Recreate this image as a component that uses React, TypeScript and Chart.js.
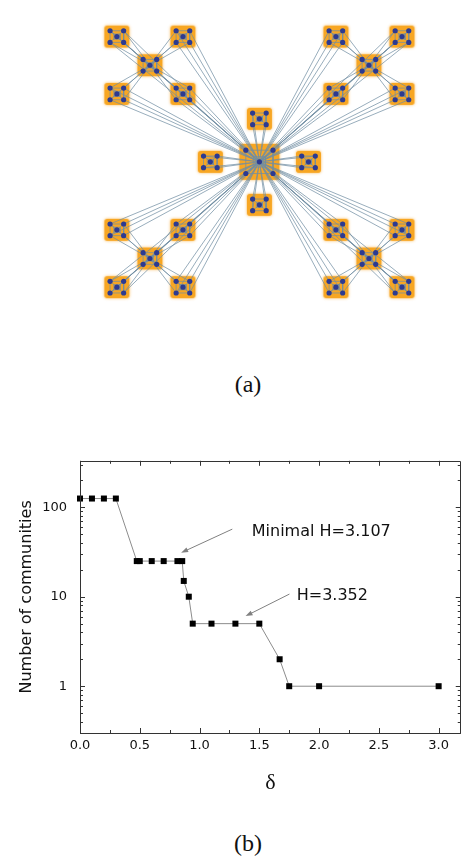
import React, { useEffect, useRef } from "react";
import { Chart, registerables } from "chart.js";

Chart.register(...registerables);

// ---------- (a) hierarchical modular network, layout units = canvas pixels ----------
const netWidth = 465;
const netHeight = 345;
const hubPosition = [261, 161];
const cornerGroupOffsets = [
  [-116, -104.5],
  [116, -104.5],
  [-116, 104.5],
  [116, 104.5],
];
const cornerGroupArms = [
  [-35, -31],
  [35, -31],
  [-35, 31],
  [35, 31],
];
const centerGroupArms = [
  [0, -46.5],
  [-52, 0],
  [52, 0],
  [0, 46.5],
];
// four peripheral nodes and the module centre
const moduleNodeOffsets = [
  [-7.2, -6.3],
  [7.2, -6.3],
  [-7.2, 6.3],
  [7.2, 6.3],
  [0, 0],
];
const moduleEdges = [
  [0, 1],
  [1, 3],
  [3, 2],
  [2, 0],
  [0, 4],
  [1, 4],
  [2, 4],
  [3, 4],
];
const moduleInnerFrame = 0.45;
const hubModuleScale = 2;

// ---------- (b) number of communities versus delta ----------
const deltaValues = [
  0, 0.1, 0.2, 0.3, 0.475, 0.5, 0.6, 0.7, 0.815, 0.855, 0.868, 0.91, 0.943,
  1.1, 1.3, 1.5, 1.67, 1.75, 2.0, 3.0,
];
const communityCounts = [
  125, 125, 125, 125, 25, 25, 25, 25, 25, 25, 15, 10, 5, 5, 5, 5, 2, 1, 1, 1,
];
const xTickValues = [0, 0.5, 1, 1.5, 2, 2.5, 3];
const xMinorTickValues = [0.25, 0.75, 1.25, 1.75, 2.25, 2.75];
const yTickValues = [1, 10, 100];
const yDecades = [0.1, 1, 10, 100];
const yMinorMultiples = [2, 3, 4, 5, 6, 7, 8, 9];
const annotationLabels = ["Minimal H=3.107", "H=3.352"];
const annotationTextAt = [
  [1.437, 53.5],
  [1.813, 10.3],
];
const annotationArrowFrom = [
  [1.274, 56.9],
  [1.752, 10.7],
];
const annotationArrowTo = [
  [0.846, 31.0],
  [1.385, 6.07],
];

type Pt = { x: number; y: number };

function buildNetwork() {
  const modules: { center: Pt; scale: number }[] = [];
  const nodes: Pt[] = [];
  const edges: [Pt, Pt][] = [];

  const addModule = (cx: number, cy: number, s: number) => {
    const pts = moduleNodeOffsets.map(([dx, dy]) => ({ x: cx + dx * s, y: cy + dy * s }));
    modules.push({ center: { x: cx, y: cy }, scale: s });
    nodes.push(...pts);
    moduleEdges.forEach(([a, b]) => edges.push([pts[a], pts[b]]));
    const inner = moduleNodeOffsets
      .slice(0, 4)
      .map(([dx, dy]) => ({ x: cx + dx * s * moduleInnerFrame, y: cy + dy * s * moduleInnerFrame }));
    [
      [0, 1],
      [1, 3],
      [3, 2],
      [2, 0],
    ].forEach(([a, b]) => edges.push([inner[a], inner[b]]));
    return pts;
  };

  const [hx, hy] = hubPosition;
  const hub = addModule(hx, hy, hubModuleScale)[4];

  centerGroupArms.forEach(([dx, dy]) => {
    const arm = addModule(hx + dx, hy + dy, 1);
    arm.slice(0, 4).forEach((p) => edges.push([hub, p]));
  });

  cornerGroupOffsets.forEach(([gx, gy]) => {
    const cx = hx + gx;
    const cy = hy + gy;
    const core = addModule(cx, cy, 1)[4];
    cornerGroupArms.forEach(([dx, dy]) => {
      const arm = addModule(cx + dx, cy + dy, 1);
      arm.slice(0, 4).forEach((p) => {
        edges.push([core, p]);
        edges.push([hub, p]);
      });
    });
  });

  return { modules, nodes, edges };
}

function makeModuleBox(w: number, h: number) {
  const pad = 4;
  const c = document.createElement("canvas");
  c.width = w + pad * 2;
  c.height = h + pad * 2;
  const g = c.getContext("2d")!;
  g.shadowColor = "rgba(248, 170, 50, 0.85)";
  g.shadowBlur = 3;
  g.fillStyle = "#F7A623";
  g.beginPath();
  g.roundRect(pad, pad, w, h, 3);
  g.fill();
  return c;
}

function networkChart(canvas: HTMLCanvasElement) {
  const { modules, nodes, edges } = buildNetwork();
  const smallBox = makeModuleBox(25, 22);
  const hubBox = makeModuleBox(40, 36);
  const edgePath: Pt[] = [];
  edges.forEach(([a, b]) => {
    edgePath.push(a, b, { x: NaN, y: NaN });
  });

  return new Chart(canvas, {
    type: "line",
    data: {
      datasets: [
        {
          type: "scatter",
          data: modules.map((m) => m.center),
          pointStyle: modules.map((m) => (m.scale > 1 ? hubBox : smallBox)) as any,
          pointRadius: 12,
          order: 3,
        },
        {
          type: "line",
          data: edgePath as any,
          borderColor: "rgba(112, 142, 162, 0.72)",
          borderWidth: 1,
          pointRadius: 0,
          spanGaps: false,
          tension: 0,
          order: 2,
        },
        {
          type: "scatter",
          data: nodes,
          pointStyle: "circle",
          pointRadius: 2.6,
          pointBackgroundColor: "#2C3A91",
          pointBorderWidth: 0,
          order: 1,
        },
      ] as any,
    },
    options: {
      animation: false,
      responsive: false,
      devicePixelRatio: 1,
      events: [],
      layout: { padding: 0 },
      plugins: { legend: { display: false }, tooltip: { enabled: false } },
      scales: {
        x: { type: "linear", min: 0, max: netWidth, display: false },
        y: { type: "linear", min: 0, max: netHeight, reverse: true, display: false },
      },
    },
  });
}

const frameAndTicks = {
  id: "frameAndTicks",
  afterDatasetsDraw(chart: any) {
    const { ctx, chartArea } = chart;
    const { left, right, top, bottom } = chartArea;
    const xs = chart.scales.x;
    const ys = chart.scales.y;
    ctx.save();
    ctx.strokeStyle = "#333";
    ctx.lineWidth = 1;
    ctx.beginPath();
    ctx.rect(Math.round(left) + 0.5, Math.round(top) + 0.5, Math.round(right - left) - 1, Math.round(bottom - top));
    ctx.stroke();

    ctx.beginPath();
    const xTick = (v: number, len: number) => {
      const p = Math.round(xs.getPixelForValue(v)) + 0.5;
      if (p < left - 1 || p > right) return;
      ctx.moveTo(p, bottom);
      ctx.lineTo(p, bottom - len);
      ctx.moveTo(p, top);
      ctx.lineTo(p, top + len);
    };
    xTickValues.forEach((v) => xTick(v, 5));
    xMinorTickValues.forEach((v) => xTick(v, 3));

    const yTick = (v: number, len: number) => {
      if (v < ys.min || v > ys.max) return;
      const p = Math.round(ys.getPixelForValue(v)) + 0.5;
      ctx.moveTo(left, p);
      ctx.lineTo(left + len, p);
      ctx.moveTo(right, p);
      ctx.lineTo(right - len, p);
    };
    yDecades.forEach((d) => {
      yTick(d, 5);
      yMinorMultiples.forEach((m) => yTick(d * m, 3));
    });
    ctx.stroke();
    ctx.restore();
  },
};

const hAnnotations = {
  id: "hAnnotations",
  afterDatasetsDraw(chart: any) {
    const { ctx } = chart;
    const xs = chart.scales.x;
    const ys = chart.scales.y;
    ctx.save();
    annotationLabels.forEach((label, i) => {
      const x0 = xs.getPixelForValue(annotationArrowFrom[i][0]);
      const y0 = ys.getPixelForValue(annotationArrowFrom[i][1]);
      const x1 = xs.getPixelForValue(annotationArrowTo[i][0]);
      const y1 = ys.getPixelForValue(annotationArrowTo[i][1]);
      const ang = Math.atan2(y1 - y0, x1 - x0);
      const L = 7;
      const W = 2.5;
      const c = Math.cos(ang);
      const s = Math.sin(ang);
      ctx.strokeStyle = "#808080";
      ctx.fillStyle = "#808080";
      ctx.lineWidth = 1;
      ctx.beginPath();
      ctx.moveTo(x0, y0);
      ctx.lineTo(x1 - L * 0.6 * c, y1 - L * 0.6 * s);
      ctx.stroke();
      ctx.beginPath();
      ctx.moveTo(x1, y1);
      ctx.lineTo(x1 - L * c + W * s, y1 - L * s - W * c);
      ctx.lineTo(x1 - L * c - W * s, y1 - L * s + W * c);
      ctx.closePath();
      ctx.fill();

      ctx.fillStyle = "#111";
      ctx.font = '16px "DejaVu Sans"';
      ctx.textAlign = "left";
      ctx.textBaseline = "middle";
      ctx.fillText(label, xs.getPixelForValue(annotationTextAt[i][0]), ys.getPixelForValue(annotationTextAt[i][1]));
    });
    ctx.restore();
  },
};

function communitiesChart(canvas: HTMLCanvasElement) {
  const tickFont = { family: "DejaVu Sans", size: 13 };
  return new Chart(canvas, {
    type: "line",
    data: {
      datasets: [
        {
          data: deltaValues.map((x, i) => ({ x, y: communityCounts[i] })),
          borderColor: "#8c8c8c",
          borderWidth: 1,
          tension: 0,
          pointStyle: "rect",
          pointRadius: 4.25,
          pointBackgroundColor: "#000",
          pointBorderWidth: 0,
          clip: false as any,
        },
      ],
    },
    options: {
      animation: false,
      responsive: false,
      devicePixelRatio: 1,
      events: [],
      layout: { padding: { top: 19, right: 1, left: 0, bottom: 0 } },
      plugins: { legend: { display: false }, tooltip: { enabled: false } },
      scales: {
        x: {
          type: "linear",
          min: 0,
          max: 3.185,
          grid: { display: false, drawTicks: false },
          border: { display: false },
          afterBuildTicks: (s: any) => {
            s.ticks = xTickValues.map((v) => ({ value: v }));
          },
          afterFit: (s: any) => {
            s.height = 87;
          },
          ticks: {
            padding: 5,
            font: tickFont,
            color: "#111",
            maxRotation: 0,
            autoSkip: false,
            callback: (v: any) => Number(v).toFixed(1),
          },
          title: {
            display: true,
            text: "δ",
            color: "#111",
            font: { family: "Liberation Serif", size: 22 },
            padding: { top: 0, bottom: 24 },
          },
        },
        y: {
          type: "logarithmic",
          min: 0.32,
          max: 330,
          grid: { display: false, drawTicks: false },
          border: { display: false },
          afterBuildTicks: (s: any) => {
            s.ticks = yTickValues.map((v) => ({ value: v }));
          },
          afterFit: (s: any) => {
            s.width = 80;
          },
          ticks: {
            padding: 13,
            font: tickFont,
            color: "#111",
            autoSkip: false,
            callback: (v: any) => String(v),
          },
          title: {
            display: true,
            text: "Number of communities",
            color: "#111",
            font: { family: "DejaVu Sans", size: 16 },
            padding: { top: 17, bottom: 0 },
          },
        },
      },
    },
    plugins: [frameAndTicks, hAnnotations],
  } as any);
}

const captionStyle = (centerY: number): React.CSSProperties => ({
  position: "absolute",
  left: 248,
  top: centerY,
  transform: "translate(-50%, -50%)",
  fontFamily: '"Liberation Serif", serif',
  fontSize: 24,
  lineHeight: 1,
  color: "#111",
  whiteSpace: "nowrap",
});

export default function App() {
  const netRef = useRef<HTMLCanvasElement>(null);
  const plotRef = useRef<HTMLCanvasElement>(null);

  useEffect(() => {
    const net = networkChart(netRef.current!);
    const plot = communitiesChart(plotRef.current!);
    return () => {
      net.destroy();
      plot.destroy();
    };
  }, []);

  return (
    <div
      style={{
        position: "absolute",
        left: 0,
        top: 0,
        width: 465,
        height: 857,
        background: "#fff",
        overflow: "hidden",
      }}
    >
      <canvas
        ref={netRef}
        width={netWidth}
        height={netHeight}
        style={{ position: "absolute", left: 0, top: 0, width: netWidth, height: netHeight }}
      />
      <div style={captionStyle(384)}>(a)</div>
      <canvas
        ref={plotRef}
        width={465}
        height={380}
        style={{ position: "absolute", left: 0, top: 440, width: 465, height: 380 }}
      />
      <div style={captionStyle(843)}>(b)</div>
    </div>
  );
}
